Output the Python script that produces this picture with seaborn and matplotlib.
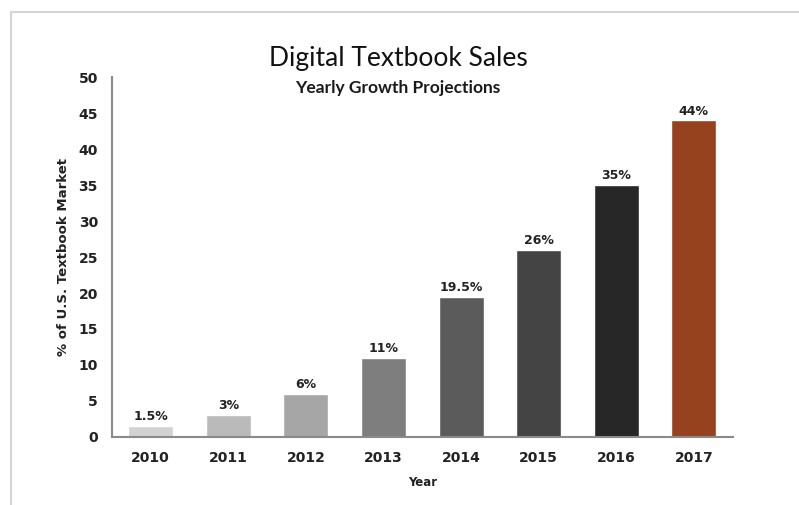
import matplotlib.pyplot as plt
import matplotlib.patches as mpatches
import pandas as pd
import seaborn as sns

years = ["2010", "2011", "2012", "2013", "2014", "2015", "2016", "2017"]
share = [1.5, 3, 6, 11, 19.5, 26, 35, 44]
bar_labels = ["1.5%", "3%", "6%", "11%", "19.5%", "26%", "35%", "44%"]
bar_colors = ["#d2d2d2", "#bababa", "#a6a6a6", "#7e7e7e", "#5b5b5b", "#444444", "#272727", "#96421f"]


def main():
    sns.set_style("white")
    plt.rcParams["font.family"] = ["DejaVu Sans"]

    df = pd.DataFrame({"Year": years, "Share": share})

    fig = plt.figure(figsize=(7.99, 5.05), dpi=100)
    ax = fig.add_axes([0.140, 0.135, 0.777, 0.712])

    sns.barplot(data=df, x="Year", y="Share", hue="Year", palette=bar_colors,
                legend=False, width=0.58, saturation=1, ax=ax)

    for cont, lab in zip(ax.containers, bar_labels):
        ax.bar_label(cont, labels=[lab], padding=2, fontsize=9,
                     fontweight="bold", color="#222222")

    ax.set_ylim(0, 50)
    ax.set_xlim(-0.5, 7.5)
    ax.set_yticks(range(0, 51, 5))
    ax.tick_params(axis="both", length=0, labelsize=10, colors="#222222")
    ax.tick_params(axis="x", pad=10)
    ax.tick_params(axis="y", pad=10)
    for t in ax.get_xticklabels() + ax.get_yticklabels():
        t.set_fontweight("bold")

    ax.set_xlabel("Year", fontsize=8.5, fontweight="bold", color="#222222", labelpad=8)
    ax.set_ylabel("% of U.S. Textbook Market", fontsize=9.5, fontweight="bold",
                  color="#222222", labelpad=6)

    sns.despine(ax=ax)
    for side in ("left", "bottom"):
        ax.spines[side].set_color("#8a8a8a")
        ax.spines[side].set_linewidth(1.5)

    fig.text(0.498, 0.885, "Digital Textbook Sales", ha="center", va="center",
             fontsize=19, color="#111111", family=["Lato", "DejaVu Sans"])
    fig.text(0.498, 0.826, "Yearly Growth Projections", ha="center", va="center",
             fontsize=12.5, fontweight="bold", color="#1a1a1a", family=["Lato", "DejaVu Sans"])

    # thin light frame (top and left edges of the original image)
    fig.patches.append(mpatches.Rectangle((0.014, -0.1), 1.2, 1.076, transform=fig.transFigure,
                                          fill=False, edgecolor="#d6d6d6", linewidth=1.5))

    fig.savefig("out.png", dpi=100)


if __name__ == "__main__":
    main()
